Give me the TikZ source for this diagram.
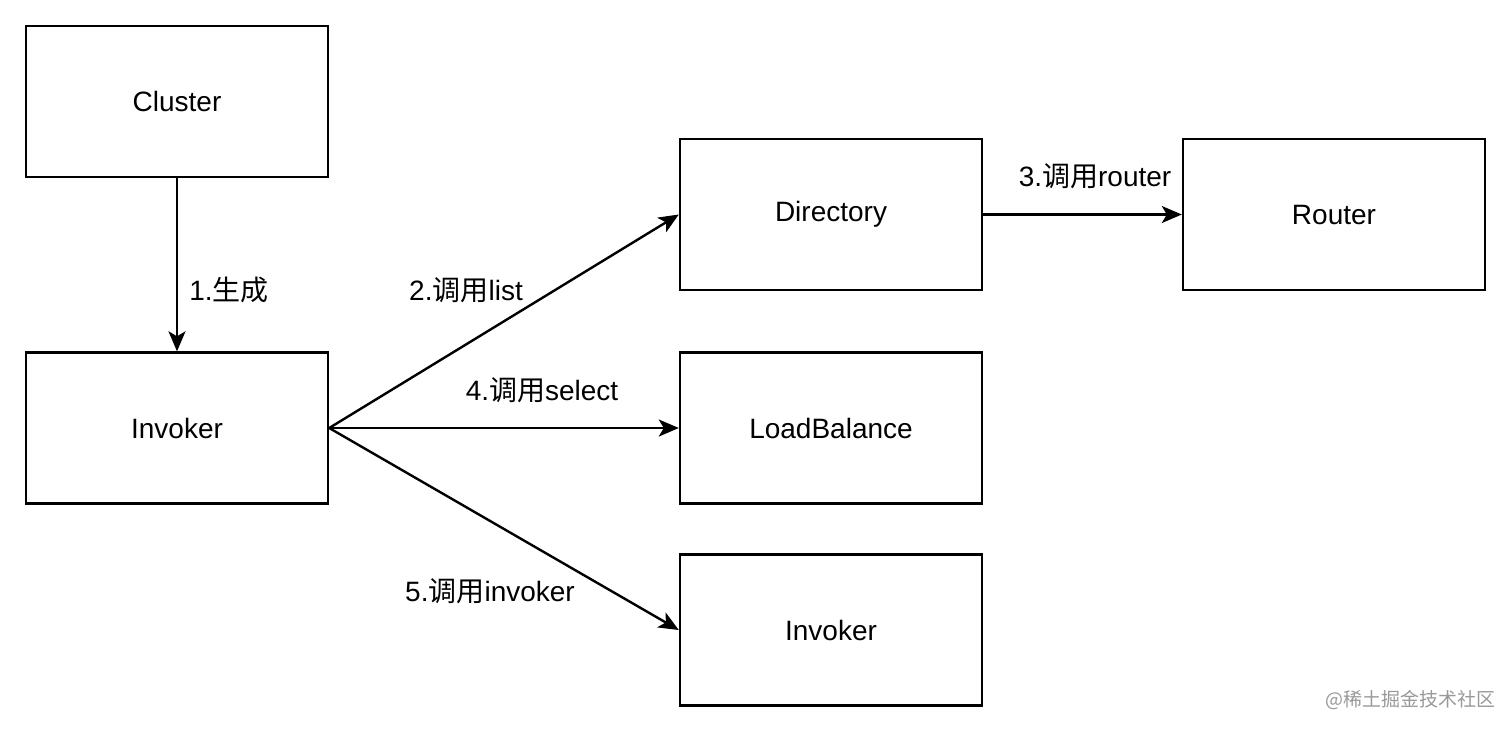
\documentclass[tikz,border=0pt]{standalone}
\usepackage{fontspec}
\setmainfont{Liberation Sans}
\newfontfamily\cjk{Noto Sans CJK SC}
\usetikzlibrary{arrows.meta}
\begin{document}
\begin{tikzpicture}[x=1pt,y=-1pt,
  box/.style={draw,line width=2.4pt,minimum width=302pt,minimum height=151pt,font=\fontsize{28}{32}\selectfont},
  arr/.style={line width=2.4pt,-{Stealth[length=20pt,width=17pt,inset=5pt]}},
  lab/.style={font=\fontsize{28}{32}\selectfont}]
\useasboundingbox (0,0) rectangle (1512,732);
\fill[white] (0,0) rectangle (1512,732);
\node[box] (cl) at (177,101.5) {Cluster};
\node[box] (inv) at (177,428) {Invoker};
\node[box] (dir) at (831,214.5) {Directory};
\node[box] (rt) at (1334,214.5) {Router};
\node[box] (lb) at (831,428) {LoadBalance};
\node[box] (inv2) at (831,630) {Invoker};
\draw[arr] (cl.south) -- (inv.north);
\draw[arr] (inv.east) -- (dir.west);
\draw[arr] (inv.east) -- (lb.west);
\draw[arr] (inv.east) -- (inv2.west);
\draw[arr] (dir.east) -- (rt.west);
\node[lab] (l1) at (229,290) {1.{\cjk 生成}};
\node[lab] (l2) at (466,290) {2.{\cjk 调用}list};
\node[lab] (l4) at (542,390) {4.{\cjk 调用}select};
\node[lab] (l5) at (490,591) {5.{\cjk 调用}invoker};
\node[lab] (l3) at (1095,176) {3.{\cjk 调用}router};
\node[text=gray!80,font=\cjk\fontsize{19}{22}\selectfont] (wm) at (1410,700) {@稀土掘金技术社区};
\end{tikzpicture}
\end{document}
